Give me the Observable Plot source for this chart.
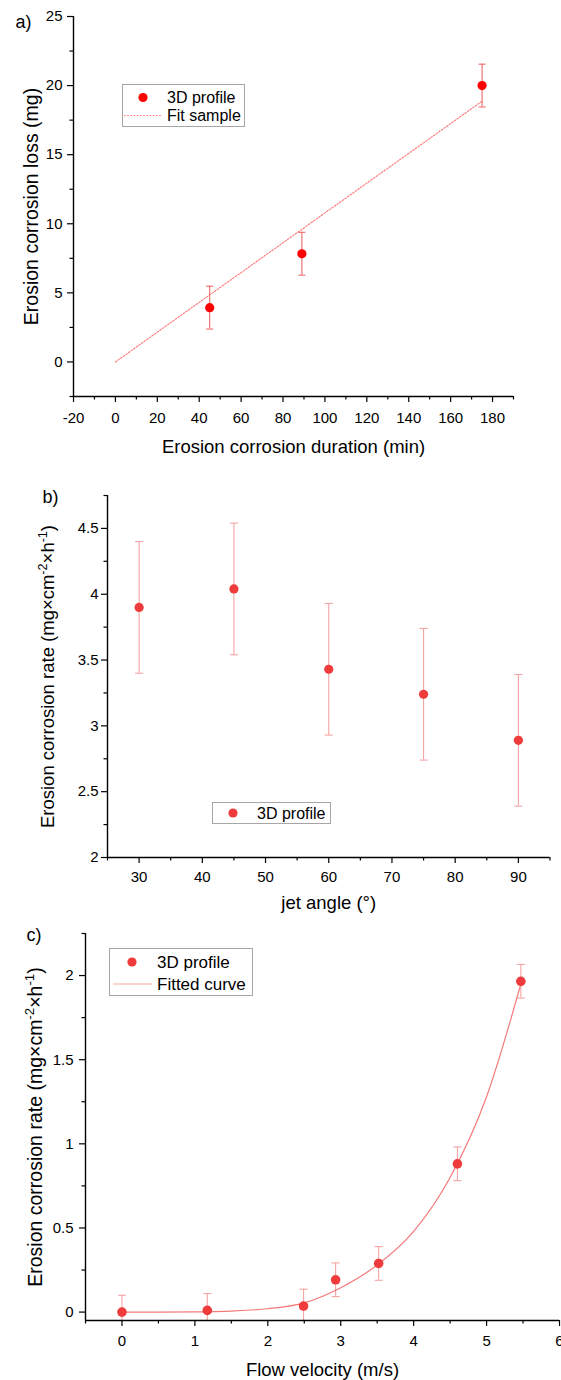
<!DOCTYPE html>
<html><head><meta charset="utf-8">
<script src="https://cdn.jsdelivr.net/npm/d3@7"></script>
<script src="https://cdn.jsdelivr.net/npm/@observablehq/plot@0.6"></script>
<style>
body{margin:0;background:#fff;}
#wrap{position:relative;width:561px;height:1380px;overflow:hidden;background:#fff;font-family:'Liberation Sans',Arial,sans-serif;}
.panel{position:absolute;left:0;}
.legend{position:absolute;}
</style></head><body><div id="wrap"></div>
<script>
// ---------- Panel a data ----------
const durA = [45, 89, 175];
const lossA = [3.93, 7.83, 20.0];
const lossErrA = [1.55, 1.55, 1.55];
const fitDurA = [0, 175];
const fitLossA = [0, 18.87];
const xTicksA = [-20, 0, 20, 40, 60, 80, 100, 120, 140, 160, 180];
const xMinorA = [-10, 10, 30, 50, 70, 90, 110, 130, 150, 170, 190];
const yTicksA = [0, 5, 10, 15, 20, 25];
const yMinorA = [-2.5, 2.5, 7.5, 12.5, 17.5, 22.5];

// ---------- Panel b data ----------
const angleB = [30, 45, 60, 75, 90];
const rateB = [3.90, 4.04, 3.43, 3.24, 2.89];
const rateErrB = [0.5, 0.5, 0.5, 0.5, 0.5];
const xTicksB = [30, 40, 50, 60, 70, 80, 90];
const xMinorB = [25, 35, 45, 55, 65, 75, 85, 95];
const yTicksB = [2, 2.5, 3, 3.5, 4, 4.5];
const yMinorB = [2.25, 2.75, 3.25, 3.75, 4.25, 4.75];

// ---------- Panel c data ----------
const velC = [0, 1.17, 2.49, 2.93, 3.52, 4.60, 5.47];
const rateC = [0.00, 0.01, 0.036, 0.192, 0.289, 0.881, 1.966];
const rateErrC = [0.1, 0.1, 0.1, 0.1, 0.1, 0.1, 0.1];
const fitVelC = [0, 0.5, 1, 1.5, 2, 2.5, 3, 3.5, 4, 4.5, 5, 5.47];
const fitRateC = [0, 0, 0.001, 0.006, 0.02, 0.055, 0.145, 0.28, 0.48, 0.80, 1.28, 1.95];
const xTicksC = [0, 1, 2, 3, 4, 5, 6];
const xMinorC = [-0.5, 0.5, 1.5, 2.5, 3.5, 4.5, 5.5];
const yTicksC = [0, 0.5, 1, 1.5, 2];
const yMinorC = [0.25, 0.75, 1.25, 1.75, 2.25];

const FONT = "'Liberation Sans', Arial, sans-serif";
const RATE_TITLE = "Erosion corrosion rate (mg×cm-2×h-1)";
const cap = (w) => ({draw(ctx) { ctx.moveTo(-w, 0); ctx.lineTo(w, 0); }});
const fmt = d => String(d);

function axes(xT, xM, yT, yM, xDom, yDom, xPad, yPad) {
  return [
    Plot.axisX(xT, {anchor: "bottom", tickSize: 6, tickPadding: xPad, tickFormat: fmt, label: null, fontSize: 15, strokeWidth: 1.2}),
    Plot.axisX(xM, {anchor: "bottom", tickSize: 3.5, tickFormat: () => "", label: null, strokeWidth: 1.2}),
    Plot.axisY(yT, {anchor: "left", tickSize: 6, tickPadding: yPad, tickFormat: fmt, label: null, fontSize: 15, strokeWidth: 1.2}),
    Plot.axisY(yM, {anchor: "left", tickSize: 3.5, tickFormat: () => "", label: null, strokeWidth: 1.2}),
    Plot.ruleY([yDom[0]], {stroke: "#000", strokeWidth: 1.4}),
    Plot.ruleX([xDom[0]], {stroke: "#000", strokeWidth: 1.4})
  ];
}

function supTitle(svg, fs) {
  d3.select(svg).selectAll("text").filter(function() { return this.textContent === RATE_TITLE; }).each(function() {
    const t = d3.select(this);
    const s = Math.round(fs * 0.68 * 10) / 10, up = Math.round(fs * 0.42 * 10) / 10;
    t.selectAll("*").remove();
    t.text(null);
    t.append("tspan").text("Erosion corrosion rate (mg×cm");
    t.append("tspan").attr("font-size", s).attr("dy", -up).text("-2");
    t.append("tspan").attr("dy", up).text("×h");
    t.append("tspan").attr("font-size", s).attr("dy", -up).text("-1");
    t.append("tspan").attr("dy", up).text(")");
  });
}

const wrap = document.getElementById("wrap");
function place(node, top) { node.classList.add("panel"); node.style.top = top + "px"; wrap.appendChild(node); }

// ---------- Panel a ----------
const rowsA = durA.map((d, i) => ({x: d, y: lossA[i], lo: lossA[i] - lossErrA[i], hi: lossA[i] + lossErrA[i]}));
const fitA = fitDurA.map((d, i) => ({x: d, y: fitLossA[i]}));
const xDomA = [-20, 190], yDomA = [-2.5, 25];
const plotA = Plot.plot({
  width: 561, height: 460, marginTop: 16, marginBottom: 64, marginLeft: 73, marginRight: 48,
  style: {fontFamily: FONT, fontSize: "15px", color: "#000", background: "transparent", overflow: "visible"},
  x: {domain: xDomA}, y: {domain: yDomA},
  marks: [
    Plot.line(fitA, {x: "x", y: "y", stroke: "#ff7676", strokeWidth: 1.1, strokeDasharray: "1.6,1.6"}),
    Plot.ruleX(rowsA, {x: "x", y1: "lo", y2: "hi", stroke: "#f06a6a", strokeWidth: 1.1}),
    Plot.dot(rowsA, {x: "x", y: "hi", symbol: cap(3.5), stroke: "#f06a6a", fill: "none", strokeWidth: 1.1}),
    Plot.dot(rowsA, {x: "x", y: "lo", symbol: cap(3.5), stroke: "#f06a6a", fill: "none", strokeWidth: 1.1}),
    Plot.dot(rowsA, {x: "x", y: "y", r: 4.6, fill: "#ff0000", stroke: null}),
    ...axes(xTicksA, xMinorA, yTicksA, yMinorA, xDomA, yDomA, 10, 5),
    Plot.text(["Erosion corrosion duration (min)"], {frameAnchor: "bottom", textAnchor: "middle", dy: 51, fontSize: 18.5, lineAnchor: "middle"}),
    Plot.text(["Erosion corrosion loss (mg)"], {frameAnchor: "left", textAnchor: "middle", rotate: -90, dx: -42, fontSize: 19.5, lineAnchor: "middle"}),
    Plot.text(["a)"], {frameAnchor: "top-left", textAnchor: "start", dx: -58, dy: 6, fontSize: 18, lineAnchor: "middle"})
  ]
});
place(plotA, 0);

// ---------- Panel b ----------
const rowsB = angleB.map((d, i) => ({x: d, y: rateB[i], lo: rateB[i] - rateErrB[i], hi: rateB[i] + rateErrB[i]}));
const xDomB = [25, 95], yDomB = [2, 4.75];
const plotB = Plot.plot({
  width: 561, height: 460, marginTop: 35, marginBottom: 63, marginLeft: 107, marginRight: 11.5,
  style: {fontFamily: FONT, fontSize: "15px", color: "#000", background: "transparent", overflow: "visible"},
  x: {domain: xDomB}, y: {domain: yDomB},
  marks: [
    Plot.ruleX(rowsB, {x: "x", y1: "lo", y2: "hi", stroke: "#f5a3a3", strokeWidth: 1.1}),
    Plot.dot(rowsB, {x: "x", y: "hi", symbol: cap(4), stroke: "#f5a3a3", fill: "none", strokeWidth: 1.1}),
    Plot.dot(rowsB, {x: "x", y: "lo", symbol: cap(4), stroke: "#f5a3a3", fill: "none", strokeWidth: 1.1}),
    Plot.dot(rowsB, {x: "x", y: "y", r: 4.6, fill: "#ef3b3b", stroke: null}),
    ...axes(xTicksB, xMinorB, yTicksB, yMinorB, xDomB, yDomB, 7.5, 3),
    Plot.text(["jet angle (°)"], {frameAnchor: "bottom", textAnchor: "middle", dy: 46, fontSize: 18.5, lineAnchor: "middle"}),
    Plot.text([RATE_TITLE], {frameAnchor: "left", textAnchor: "middle", rotate: -90, dx: -59, fontSize: 18.5, lineAnchor: "middle"}),
    Plot.text(["b)"], {frameAnchor: "top-left", textAnchor: "start", dx: -65, dy: 2, fontSize: 18, lineAnchor: "middle"})
  ]
});
supTitle(plotB, 18.5);
place(plotB, 460);

// ---------- Panel c ----------
const rowsC = velC.map((d, i) => ({x: d, y: rateC[i], lo: rateC[i] - rateErrC[i], hi: rateC[i] + rateErrC[i]}));
const fitC = fitVelC.map((d, i) => ({x: d, y: fitRateC[i]}));
const xDomC = [-0.5, 6], yDomC = [-0.05, 2.25];
const plotC = Plot.plot({
  width: 561, height: 460, marginTop: 13, marginBottom: 60, marginLeft: 85, marginRight: 2,
  style: {fontFamily: FONT, fontSize: "15px", color: "#000", background: "transparent", overflow: "visible"},
  x: {domain: xDomC}, y: {domain: yDomC},
  marks: [
    Plot.ruleX(rowsC, {x: "x", y1: "lo", y2: "hi", stroke: "#f5a3a3", strokeWidth: 1.1, clip: true}),
    Plot.dot(rowsC, {x: "x", y: "hi", symbol: cap(4), stroke: "#f5a3a3", fill: "none", strokeWidth: 1.1, clip: true}),
    Plot.dot(rowsC, {x: "x", y: "lo", symbol: cap(4), stroke: "#f5a3a3", fill: "none", strokeWidth: 1.1, clip: true}),
    Plot.line(fitC, {x: "x", y: "y", stroke: "#f47a7a", strokeWidth: 1.2, curve: "monotone-x"}),
    Plot.dot(rowsC, {x: "x", y: "y", r: 4.8, fill: "#ef3b3b", stroke: null}),
    ...axes(xTicksC, xMinorC, yTicksC, yMinorC, xDomC, yDomC, 9, 6),
    Plot.text(["Flow velocity (m/s)"], {frameAnchor: "bottom", textAnchor: "middle", dy: 50, fontSize: 18.5, lineAnchor: "middle"}),
    Plot.text([RATE_TITLE], {frameAnchor: "left", textAnchor: "middle", rotate: -90, dx: -50, fontSize: 19.5, lineAnchor: "middle"}),
    Plot.text(["c)"], {frameAnchor: "top-left", textAnchor: "start", dx: -59, dy: 2, fontSize: 18, lineAnchor: "middle"})
  ]
});
supTitle(plotC, 19.5);
place(plotC, 920);

// ---------- Legends ----------
function legend(left, top, w, h, rows, fs) {
  const svg = d3.create("svg").attr("class", "legend").attr("width", w).attr("height", h)
    .style("left", left + "px").style("top", top + "px").style("font-family", FONT);
  svg.append("rect").attr("x", 0.5).attr("y", 0.5).attr("width", w - 1).attr("height", h - 1)
    .attr("fill", "#fff").attr("stroke", "#a6a6a6").attr("stroke-width", 1);
  rows.forEach(r => {
    if (r.type === "dot") svg.append("circle").attr("cx", r.mx).attr("cy", r.cy).attr("r", 4.6).attr("fill", r.color);
    else svg.append("line").attr("x1", r.x1).attr("x2", r.x2).attr("y1", r.cy).attr("y2", r.cy)
      .attr("stroke", r.color).attr("stroke-width", 1.1).attr("stroke-dasharray", r.dash || null);
    svg.append("text").attr("x", r.tx).attr("y", r.cy).attr("dy", "0.35em").attr("font-size", fs).attr("fill", "#000").text(r.label);
  });
  wrap.appendChild(svg.node());
}
legend(122, 84, 123, 43, [
  {type: "dot", mx: 21, cy: 13.5, color: "#ff0000", tx: 45, label: "3D profile"},
  {type: "line", x1: 2, x2: 39, cy: 31.5, color: "#ff7676", dash: "1.6,1.6", tx: 45, label: "Fit sample"}
], 16);
legend(212, 802, 119, 22, [
  {type: "dot", mx: 21, cy: 11, color: "#ef3b3b", tx: 45, label: "3D profile"}
], 16);
legend(109, 948, 144, 48, [
  {type: "dot", mx: 23, cy: 14, color: "#ef3b3b", tx: 48, label: "3D profile"},
  {type: "line", x1: 4, x2: 43, cy: 36, color: "#f9a8a8", tx: 48, label: "Fitted curve"}
], 17);
</script></body></html>
